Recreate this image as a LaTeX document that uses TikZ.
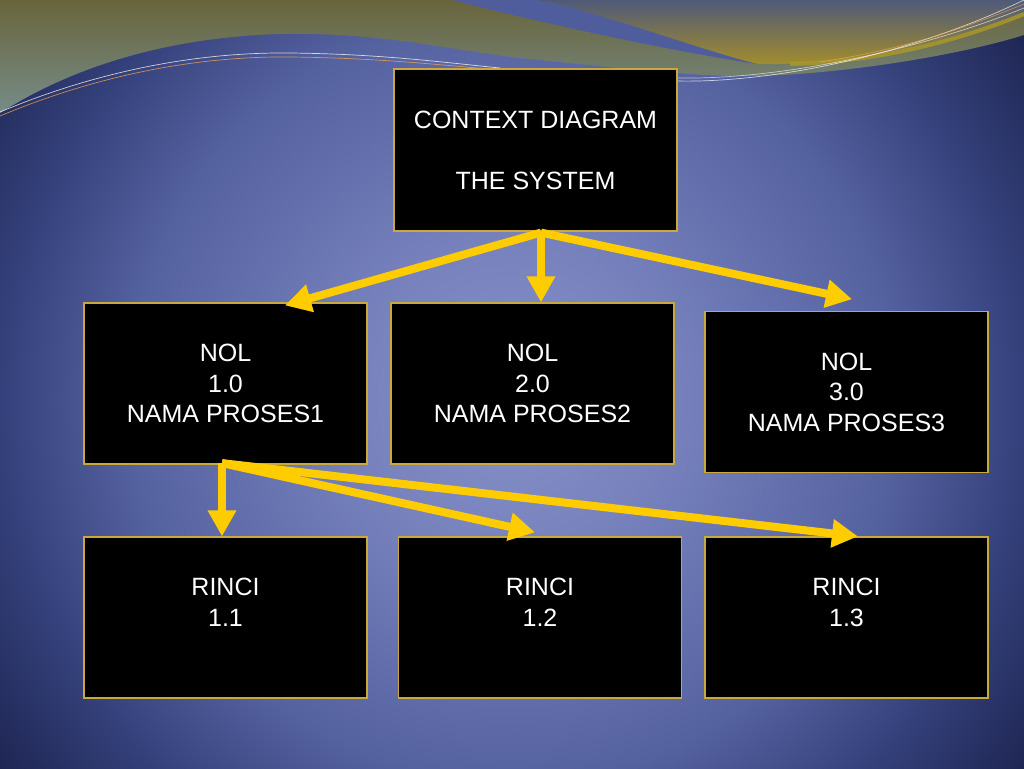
\documentclass[tikz,border=0pt]{standalone}
\usepackage{fontspec}
\setmainfont{Liberation Sans}
\usetikzlibrary{arrows.meta}
\definecolor{bgA}{HTML}{8690C8}
\definecolor{bgB}{HTML}{7883BE}
\definecolor{bgC}{HTML}{5562A0}
\definecolor{bgD}{HTML}{34407A}
\definecolor{bgE}{HTML}{1C2450}
\definecolor{bandTop}{HTML}{69653C}
\definecolor{bandBot}{HTML}{768C88}
\definecolor{slate}{HTML}{4F5A78}
\definecolor{goldish}{HTML}{A48E2C}
\definecolor{swoosh}{HTML}{4F5D9C}
\definecolor{boxedge}{HTML}{C9A83C}
\definecolor{arrowyellow}{HTML}{FFCC00}
% the middle 50bp square of a shading is fitted to the path: radius 660 <-> 25bp
\pgfdeclareradialshading{bgshade}{\pgfpoint{0bp}{0bp}}{%
  color(0bp)=(bgA); color(5.7bp)=(bgB); color(14.5bp)=(bgC); color(19.4bp)=(bgD); color(24.2bp)=(bgE); color(50bp)=(bgE)}
\tikzset{
  procbox/.style={draw=boxedge, line width=1.2pt, fill=black, rectangle,
    minimum width=283pt, minimum height=161pt, inner sep=0pt},
  txt/.style={text=white, align=center, inner sep=0pt, anchor=base,
    font=\fontsize{25}{30.5}\selectfont},
  flow/.style={draw=arrowyellow, line width=8pt,
    -{Triangle[length=26pt,width=27pt]}, arrowyellow},
  thinline/.style={line width=0.7pt}
}
\begin{document}
\begin{tikzpicture}[x=1pt,y=-1pt]
\useasboundingbox (0,0) rectangle (1024,768);
% background
\begin{scope}
\clip (0,0) rectangle (1024,768);
\shade[shading=bgshade] (512,400) circle[radius=660];
\end{scope}
% top band
\shade[top color=bandTop, bottom color=bandBot]
  (0,113) .. controls (60,75) and (150,38) .. (280,34)
  .. controls (380,32) and (450,50) .. (520,58)
  .. controls (600,66) and (700,78) .. (760,76)
  .. controls (850,73) and (960,55) .. (1024,35)
  -- (1024,0) -- (0,0) -- cycle;
% gold region upper right
\shade[top color=slate, bottom color=goldish]
  (537,0) .. controls (600,12) and (700,50) .. (757,64)
  .. controls (850,66) and (960,40) .. (1024,12)
  -- (1024,0) -- cycle;
% gold highlight
\draw[line width=4pt, goldish!90!yellow, opacity=0.8]
  (790,64) .. controls (880,62) and (960,40) .. (1024,14);
% blue swoosh
\fill[swoosh]
  (537,0) .. controls (600,12) and (700,50) .. (757,64)
  .. controls (690,54) and (560,28) .. (453,0) -- cycle;
% thin lines
\draw[thinline, white, opacity=0.75]
  (0,112) .. controls (100,70) and (200,52) .. (290,53)
  .. controls (380,54) and (440,62) .. (500,68);
\draw[thinline, orange!70!white, opacity=0.75]
  (0,116) .. controls (100,74) and (200,56) .. (290,57)
  .. controls (380,58) and (440,65) .. (500,70);
\draw[thinline, white, opacity=0.7]
  (677,81) .. controls (760,83) and (900,60) .. (1024,0);
\draw[thinline, white, opacity=0.6]
  (677,78) .. controls (780,80) and (920,50) .. (1024,8);
\draw[thinline, orange!70!white, opacity=0.6]
  (820,62) .. controls (900,50) and (960,30) .. (1024,4);
% boxes
\node[procbox, minimum height=162pt] (top) at (535.5,150) {};
\node[procbox] (b1) at (225.5,383.5) {};
\node[procbox] (b2) at (532.5,383.5) {};
\node[procbox] (b3) at (846.5,391.8) {};
\node[procbox] (r1) at (225.5,617.5) {};
\node[procbox] (r2) at (540,617.5) {};
\node[procbox] (r3) at (846.5,617.5) {};
% texts (anchored at the baseline of the last line)
\node[txt] (t0) at ([yshift=-121pt]top.north) {CONTEXT DIAGRAM\\[30.5pt]THE SYSTEM};
\node[txt] (t1) at ([yshift=-120.4pt]b1.north) {NOL\\1.0\\NAMA PROSES1};
\node[txt] (t2) at ([yshift=-120.4pt]b2.north) {NOL\\2.0\\NAMA PROSES2};
\node[txt] (t3) at ([yshift=-120.4pt]b3.north) {NOL\\3.0\\NAMA PROSES3};
\node[txt] (u1) at ([yshift=-89.9pt]r1.north) {RINCI\\1.1};
\node[txt] (u2) at ([yshift=-89.9pt]r2.north) {RINCI\\1.2};
\node[txt] (u3) at ([yshift=-89.9pt]r3.north) {RINCI\\1.3};
% connector end points
\coordinate (o0) at ([xshift=5.5pt,yshift=-1pt]top.south);
\coordinate (o1) at ([xshift=-3.5pt,yshift=1.5pt]b1.south);
% arrows
\draw[flow] (o0) -- ([xshift=59.5pt,yshift=-3pt]b1.north);
\draw[flow] (o0) -- ([xshift=8.5pt]b2.north);
\draw[flow] (o0) -- ([xshift=5.5pt,yshift=11.5pt]b3.north);
\draw[flow] (o1) -- ([xshift=-3.5pt]r1.north);
\draw[flow] (o1) -- ([xshift=-5pt,yshift=4pt]r2.north);
\draw[flow] (o1) -- ([xshift=11.5pt]r3.north);
\end{tikzpicture}
\end{document}
